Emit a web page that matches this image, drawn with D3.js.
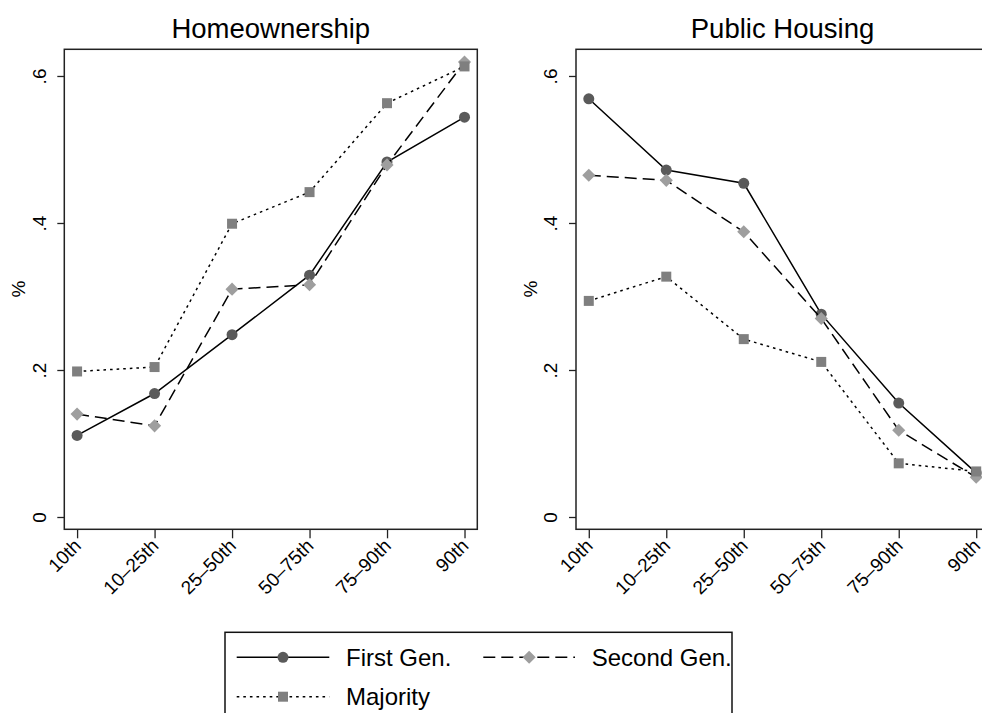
<!DOCTYPE html>
<html><head><meta charset="utf-8">
<script src="https://cdn.jsdelivr.net/npm/d3@7"></script>
<style>
body{margin:0;background:#fff}
svg{display:block;font-family:"Liberation Sans",Arial,Helvetica,sans-serif}
</style>
</head><body><svg id="c" width="982" height="713"></svg>
<script>
const categories = ["10th","10–25th","25–50th","50–75th","75–90th","90th"];
const seriesNames = ["First Gen.","Second Gen.","Majority"];
const panelTitles = ["Homeownership","Public Housing"];
const yTicks = [0, 0.2, 0.4, 0.6];
const yTickLabels = ["0", ".2", ".4", ".6"];
const yAxisLabel = "%";

const homeFirst    = [0.111, 0.168, 0.248, 0.329, 0.483, 0.544];
const homeSecond   = [0.140, 0.124, 0.310, 0.316, 0.479, 0.619];
const homeMajority = [0.198, 0.204, 0.399, 0.442, 0.563, 0.613];

const publicFirst    = [0.569, 0.472, 0.454, 0.276, 0.155, 0.060];
const publicSecond   = [0.465, 0.458, 0.388, 0.270, 0.118, 0.054];
const publicMajority = [0.294, 0.327, 0.242, 0.211, 0.073, 0.062];

const panels = [
  {title: panelTitles[0], series: [homeFirst, homeSecond, homeMajority]},
  {title: panelTitles[1], series: [publicFirst, publicSecond, publicMajority]}
];

const styles = [
  {dash: null,    symbol: d3.symbolCircle, size: 95,  rot: 0,  fill: "#5a5a5a"},
  {dash: "12,6",  symbol: d3.symbolSquare, size: 86,  rot: 45, fill: "#9e9e9e"},
  {dash: "2.6,4", symbol: d3.symbolSquare, size: 100, rot: 0,  fill: "#7f7f7f"}
];

const svg = d3.select("#c");
svg.append("rect").attr("width", 982).attr("height", 713).attr("fill", "#fff");

const frameTop = 49.3, frameBottom = 529.3, frameW = 413;
const panelLefts = [64.3, 576];
const y = d3.scaleLinear().domain([-0.01673, 0.6363]).range([frameBottom, frameTop]);

panels.forEach((p, pi) => {
  const L = panelLefts[pi];
  const x = d3.scalePoint().domain(categories).range([L, L + frameW]).padding(0.165);
  const g = svg.append("g");

  // title
  g.append("text").attr("x", L + frameW / 2).attr("y", 38)
    .attr("text-anchor", "middle").attr("font-size", 27.5).attr("fill", "#000")
    .text(p.title);

  // y axis
  const ya = g.append("g").attr("transform", `translate(${L},0)`)
    .call(d3.axisLeft(y).tickValues(yTicks).tickSize(7)
      .tickFormat((d, i) => yTickLabels[i]));
  ya.select(".domain").remove();
  ya.selectAll(".tick line").attr("stroke", "#222").attr("stroke-width", 1.3);
  ya.selectAll(".tick text")
    .attr("x", null).attr("dy", null)
    .attr("transform", "translate(-18.7,0) rotate(-90)")
    .attr("text-anchor", "middle").attr("font-size", 19).attr("fill", "#000")
    .attr("font-family", null);
  ya.attr("font-family", null).attr("font-size", null);

  // y label
  g.append("text").attr("transform", `translate(${L - 39.3},289) rotate(-90)`)
    .attr("text-anchor", "middle").attr("font-size", 19).attr("fill", "#000")
    .text(yAxisLabel);

  // x axis
  const xa = g.append("g").attr("transform", `translate(0,${frameBottom})`)
    .call(d3.axisBottom(x).tickSize(9));
  xa.select(".domain").remove();
  xa.attr("font-family", null).attr("font-size", null);
  xa.selectAll(".tick line").attr("stroke", "#222").attr("stroke-width", 1.3);
  xa.selectAll(".tick text")
    .attr("y", null).attr("dy", "0.35em")
    .attr("transform", "translate(0,13) rotate(-45)")
    .attr("text-anchor", "end").attr("font-size", 19).attr("fill", "#000");

  // series
  p.series.forEach((vals, si) => {
    const st = styles[si];
    const line = d3.line().x((d, i) => x(categories[i])).y(d => y(d));
    g.append("path").datum(vals).attr("d", line)
      .attr("fill", "none").attr("stroke", "#000").attr("stroke-width", 1.5)
      .attr("stroke-dasharray", st.dash);
    g.selectAll(null).data(vals).enter().append("path")
      .attr("d", d3.symbol().type(st.symbol).size(st.size))
      .attr("transform", (d, i) => `translate(${x(categories[i])},${y(d)}) rotate(${st.rot})`)
      .attr("fill", st.fill);
  });

  // frame
  g.append("rect").attr("x", L).attr("y", frameTop)
    .attr("width", frameW).attr("height", frameBottom - frameTop)
    .attr("fill", "none").attr("stroke", "#222").attr("stroke-width", 1.5);
});

// legend
const lg = svg.append("g");
lg.append("rect").attr("x", 225).attr("y", 632.3).attr("width", 507).attr("height", 110)
  .attr("fill", "#fff").attr("stroke", "#111").attr("stroke-width", 1.5);
const legendPos = [
  {lx: 236.7, rx: 329.3, tx: 346, cy: 657.3},
  {lx: 483.3, rx: 575, tx: 591.7, cy: 657.3},
  {lx: 236.7, rx: 329.3, tx: 346, cy: 696.7}
];
seriesNames.forEach((name, si) => {
  const st = styles[si], lp = legendPos[si];
  lg.append("line").attr("x1", lp.lx).attr("x2", lp.rx).attr("y1", lp.cy).attr("y2", lp.cy)
    .attr("stroke", "#000").attr("stroke-width", 1.5).attr("stroke-dasharray", st.dash);
  lg.append("path").attr("d", d3.symbol().type(st.symbol).size(st.size))
    .attr("transform", `translate(${(lp.lx + lp.rx) / 2},${lp.cy}) rotate(${st.rot})`)
    .attr("fill", st.fill);
  lg.append("text").attr("x", lp.tx).attr("y", lp.cy).attr("dy", "0.36em")
    .attr("font-size", 24).attr("fill", "#000").text(name);
});
</script>
</body></html>
